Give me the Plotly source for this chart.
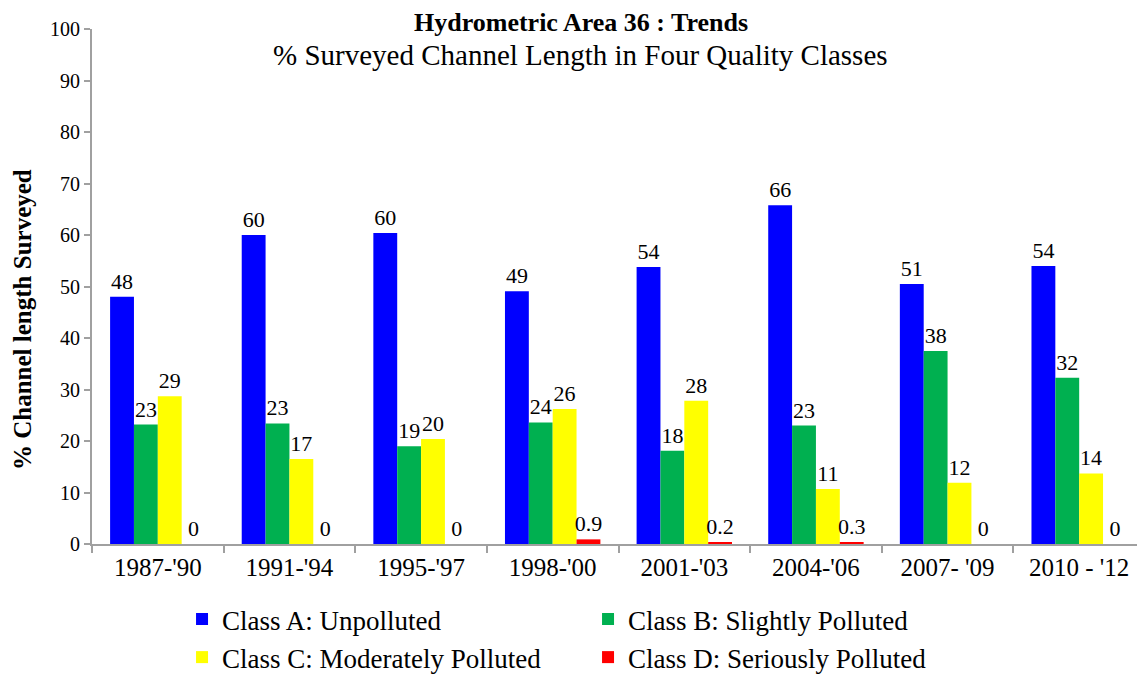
import plotly.graph_objects as go

periods = ["1987-'90", "1991-'94", "1995-'97", "1998-'00", "2001-'03", "2004-'06", "2007- '09", "2010 - '12"]
class_names = ["Class A: Unpolluted", "Class B: Slightly Polluted",
               "Class C: Moderately Polluted", "Class D: Seriously Polluted"]
class_a = [48.0, 60.0, 60.4, 49.1, 53.8, 65.8, 50.5, 54.0]
class_b = [23.2, 23.4, 19.0, 23.6, 18.1, 23.0, 37.5, 32.3]
class_c = [28.7, 16.5, 20.4, 26.2, 27.8, 10.7, 11.9, 13.7]
class_d = [0.0, 0.0, 0.0, 0.9, 0.2, 0.3, 0.0, 0.0]
labels_a = ["48", "60", "60", "49", "54", "66", "51", "54"]
labels_b = ["23", "23", "19", "24", "18", "23", "38", "32"]
labels_c = ["29", "17", "20", "26", "28", "11", "12", "14"]
labels_d = ["0", "0", "0", "0.9", "0.2", "0.3", "0", "0"]
colors = ["#0000FF", "#00B050", "#FFFF00", "#FF0000"]

FONT = "Liberation Serif"
fig = go.Figure()
for name, vals, labs, col in zip(class_names, [class_a, class_b, class_c, class_d],
                                 [labels_a, labels_b, labels_c, labels_d], colors):
    fig.add_trace(go.Bar(
        x=periods, y=vals, name=name, marker=dict(color=col, line=dict(width=0)),
        text=labs, textposition="outside", texttemplate="%{text}", textangle=0,
        constraintext="none",
        textfont=dict(family=FONT, size=22, color="black"), cliponaxis=False,
    ))

fig.update_layout(
    width=1137, height=667,
    margin=dict(l=84, r=0, t=21, b=131),
    plot_bgcolor="white", paper_bgcolor="white",
    barmode="group", bargap=0.275, bargroupgap=0,
    font=dict(family=FONT, size=20, color="black"),
    showlegend=True,
    legend=dict(orientation="h", x=0.0855, xanchor="left", yref="container", y=0.12, yanchor="top",
                entrywidth=361, entrywidthmode="pixels",
                font=dict(family=FONT, size=27), itemwidth=30, tracegroupgap=0),
)
fig.update_xaxes(showline=True, linecolor="#A0A0A0", linewidth=2, ticks="outside",
                 tickson="boundaries", ticklen=7, tickcolor="#A0A0A0", tickwidth=2,
                 tickfont=dict(family=FONT, size=25), showgrid=False)
fig.update_yaxes(range=[0, 100], dtick=10, showline=True, linecolor="#A0A0A0", linewidth=2,
                 ticks="outside", ticklen=6, tickcolor="#A0A0A0", tickwidth=2,
                 tickfont=dict(family=FONT, size=20), showgrid=False, zeroline=False)
fig.add_annotation(text="<b>% Channel length Surveyed</b>", xref="paper", yref="paper",
                   x=-0.0655, y=0.435, xanchor="center", yanchor="middle", textangle=-90,
                   showarrow=False, font=dict(family=FONT, size=25))
fig.add_annotation(text="<b>Hydrometric Area 36 : Trends</b>", xref="paper", yref="paper",
                   x=0.464, y=1.0117, xanchor="center", yanchor="middle", showarrow=False,
                   font=dict(family=FONT, size=26))
fig.add_annotation(text="% Surveyed Channel Length in Four Quality Classes", xref="paper", yref="paper",
                   x=0.464, y=0.9495, xanchor="center", yanchor="middle", showarrow=False,
                   font=dict(family=FONT, size=29))
fig.write_html("out.html")
